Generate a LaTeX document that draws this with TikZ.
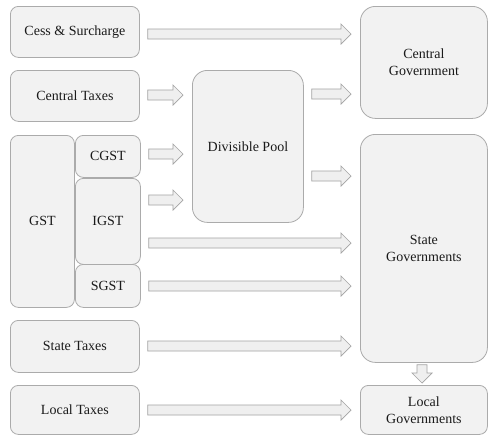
\documentclass[tikz,border=0pt]{standalone}
\usepackage{fontspec}
\setmainfont{Liberation Serif}
\usetikzlibrary{calc}
\definecolor{boxfill}{HTML}{F2F2F2}
\definecolor{boxline}{HTML}{ABABAB}
\definecolor{arrfill}{HTML}{EFEFEF}
\definecolor{arrline}{HTML}{A3A3A3}
\definecolor{txt}{HTML}{1A1A1A}
\tikzset{
  box/.style={draw=boxline, fill=boxfill, line width=0.8pt, rounded corners=8pt,
    anchor=north west, inner sep=0pt, align=center, text=txt, font=\fontsize{14}{17}\selectfont},
  bigbox/.style={box, rounded corners=15pt},
  blk/.style={draw=arrline, fill=arrfill, line width=0.7pt, line join=miter},
}
% horizontal block arrow: from east of #1 to west of #2 at height #3
\newcommand\harrow[3]{%
  \draw[blk] let \p1=(#1.east), \p2=(#2.west), \p3=(0,#3) in
    (\x1+8pt,\y3+5pt) -- (\x2-19pt,\y3+5pt) -- (\x2-19pt,\y3+10pt) -- (\x2-9pt,\y3)
    -- (\x2-19pt,\y3-10pt) -- (\x2-19pt,\y3-5pt) -- (\x1+8pt,\y3-5pt) -- cycle;}
% vertical block arrow: from south of #1 to north of #2 at x #3
\newcommand\varrow[3]{%
  \draw[blk] let \p1=(#1.south), \p2=(#2.north), \p3=(#3,0) in
    (\x3-5pt,\y1-2pt) -- (\x3-5pt,\y2+12pt) -- (\x3-10pt,\y2+12pt) -- (\x3,\y2+2pt)
    -- (\x3+10pt,\y2+12pt) -- (\x3+5pt,\y2+12pt) -- (\x3+5pt,\y1-2pt) -- cycle;}
\begin{document}
\begin{tikzpicture}[x=1pt,y=-1pt]
\fill[white] (0,0) rectangle (500,440);
\useasboundingbox (0,0) rectangle (500,440);
% left column
\node[box, minimum width=129pt, minimum height=51pt] (cess) at (10,6) {Cess \& Surcharge};
\node[box, minimum width=129pt, minimum height=51pt] (ctax) at (10,70) {Central Taxes};
\node[box, minimum width=64pt, minimum height=172pt] (gst) at (10,135) {GST};
\node[box, minimum width=65pt, minimum height=42pt] (cgst) at (75,135) {CGST};
\node[box, minimum width=65pt, minimum height=86pt] (igst) at (75,178) {IGST};
\node[box, minimum width=65pt, minimum height=43pt] (sgst) at (75,264) {SGST};
\node[box, minimum width=129pt, minimum height=52pt] (stax) at (10,320) {State Taxes};
\node[box, minimum width=129pt, minimum height=49pt] (ltax) at (10,385) {Local Taxes};
% middle
\node[bigbox, minimum width=111pt, minimum height=152pt] (pool) at (192,70) {Divisible Pool};
% right
\node[bigbox, minimum width=127pt, minimum height=112pt] (cgov) at (360,6) {Central\\Government};
\node[bigbox, minimum width=127pt, minimum height=228pt] (sgov) at (360,134) {State\\Governments};
\node[box, minimum width=127pt, minimum height=49pt] (lgov) at (360,385) {Local\\Governments};
% arrows
\harrow{cess}{cgov}{34}
\harrow{ctax}{pool}{95}
\harrow{cgst}{pool}{154}
\harrow{igst}{pool}{200}
\harrow{pool}{cgov}{94}
\harrow{pool}{sgov}{176}
\harrow{igst}{sgov}{243}
\harrow{sgst}{sgov}{286}
\harrow{stax}{sgov}{346}
\harrow{ltax}{lgov}{410}
\varrow{sgov}{lgov}{422}
\end{tikzpicture}
\end{document}
